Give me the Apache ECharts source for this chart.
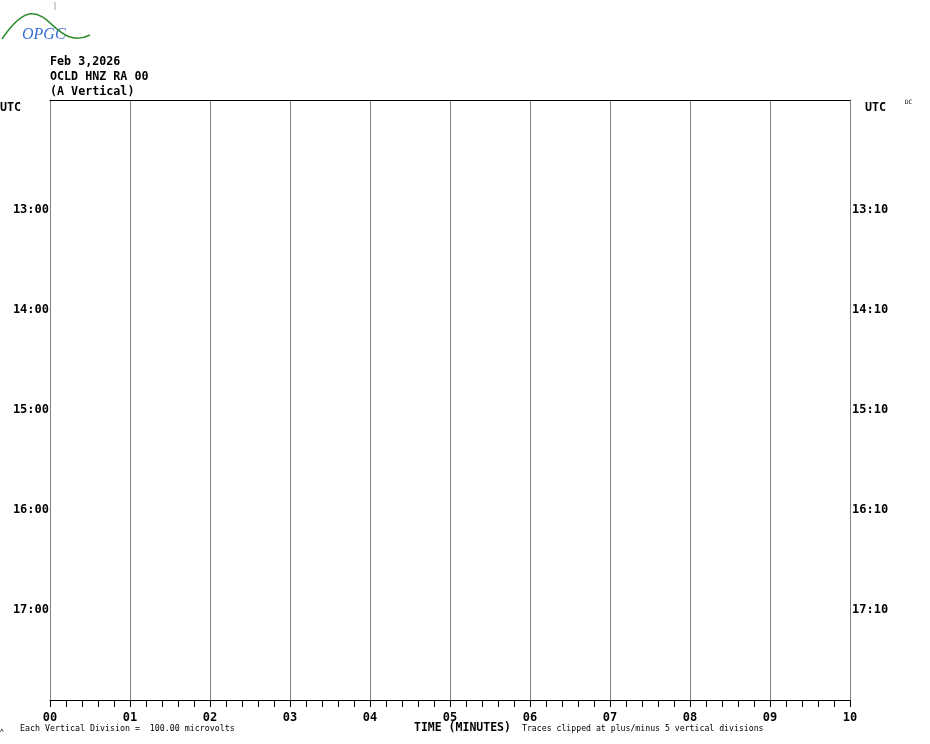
<!DOCTYPE html>
<html><head><meta charset="utf-8">
<script src="https://cdn.jsdelivr.net/npm/echarts@6/dist/echarts.min.js"></script>
<style>html,body{margin:0;padding:0;background:#fff}#c{width:930px;height:744px}</style>
</head><body><div id="c"></div>
<script>
// Data
const minuteTicks = ["00","01","02","03","04","05","06","07","08","09","10"];
const leftHourLabels = ["13:00","14:00","15:00","16:00","17:00"];
const rightHourLabels = ["13:10","14:10","15:10","16:10","17:10"];
const rowValues = [1,2,3,4,5];      // row index of each labelled line
const traceData = [];                // no traces recorded
const titleLines = ["Feb 3,2026","OCLD HNZ RA 00","(A Vertical)"];

const mono = '"DejaVu Sans Mono", monospace';
const chart = echarts.init(document.getElementById('c'), null, {renderer:'canvas'});
chart.setOption({
  animation:false,
  backgroundColor:'#fff',
  grid:{left:50, top:100, width:800, height:600},
  xAxis:[{
    type:'value', min:0, max:10, interval:1, position:'bottom',
    axisLine:{show:true, onZero:false, lineStyle:{color:'#000', width:1}},
    axisTick:{show:true, length:7, inside:false, lineStyle:{color:'#000', width:1}},
    minorTick:{show:true, splitNumber:5, length:7, lineStyle:{color:'#000', width:1}},
    splitLine:{show:true, lineStyle:{color:'#808080', width:1}},
    axisLabel:{formatter:v=>minuteTicks[Math.round(v)], color:'#000', fontFamily:mono, fontWeight:'bold', fontSize:12, margin:12}
  },{
    type:'value', min:0, max:10, position:'top',
    axisLine:{show:true, onZero:false, lineStyle:{color:'#000', width:1}},
    axisTick:{show:false}, axisLabel:{show:false}, splitLine:{show:false}
  }],
  yAxis:[{
    type:'value', min:0, max:6, interval:1, inverse:true, position:'left',
    axisLine:{show:true, onZero:false, lineStyle:{color:'#808080'}},
    axisTick:{show:false}, splitLine:{show:false},
    axisLabel:{formatter:v=>{const i=rowValues.indexOf(Math.round(v));return i>=0?leftHourLabels[i]:'';},
      color:'#000', fontFamily:mono, fontWeight:'bold', fontSize:12, margin:1, verticalAlign:'top', lineHeight:12, padding:[4,0,0,0]}
  },{
    type:'value', min:0, max:6, interval:1, inverse:true, position:'right',
    axisLine:{show:true, onZero:false, lineStyle:{color:'#808080'}},
    axisTick:{show:false}, splitLine:{show:false},
    axisLabel:{formatter:v=>{const i=rowValues.indexOf(Math.round(v));return i>=0?rightHourLabels[i]:'';},
      color:'#000', fontFamily:mono, fontWeight:'bold', fontSize:12, margin:2, verticalAlign:'top', lineHeight:12, padding:[4,0,0,0]}
  }],
  series:[{type:'line', data:traceData, xAxisIndex:0, yAxisIndex:0, showSymbol:false, lineStyle:{color:'#000', width:1}}],
  graphic:[
    // logo
    {type:'bezierCurve', shape:{x1:2,y1:39,x2:90,y2:35,cpx1:45,cpy1:-25,cpx2:50,cpy2:55}, style:{stroke:'#2e8b2e', lineWidth:1.5, fill:null}, z:1},
    {type:'line', shape:{x1:55,y1:2,x2:55,y2:10}, style:{stroke:'#9aa89a', lineWidth:1}},
    {type:'text', left:22, top:27, style:{text:'OPGC', font:'italic 16px "Liberation Serif", serif', fill:'#3a6fd8', stroke:null}},
    {type:'text', left:50, top:56, style:{text:titleLines[0], font:'bold 11.7px '+mono, fill:'#000'}},
    {type:'text', left:50, top:71, style:{text:titleLines[1], font:'bold 11.7px '+mono, fill:'#000'}},
    {type:'text', left:50, top:86, style:{text:titleLines[2], font:'bold 11.7px '+mono, fill:'#000'}},
    {type:'text', left:0, top:102, style:{text:'UTC', font:'bold 11.7px '+mono, fill:'#000'}},
    {type:'text', left:865, top:102, style:{text:'UTC', font:'bold 11.7px '+mono, fill:'#000'}},
    {type:'text', left:905, top:99, style:{text:'DC', font:'6px '+mono, fill:'#000'}},
    {type:'text', left:0, top:727, style:{text:'\u028c', font:'6px '+mono, fill:'#000'}},
    {type:'text', left:20, top:725, style:{text:'Each Vertical Division =  100.00 microvolts', font:'8.3px '+mono, fill:'#000'}},
    {type:'text', left:414, top:722, style:{text:'TIME (MINUTES)', font:'bold 11.5px '+mono, fill:'#000'}},
    {type:'text', left:522, top:725, style:{text:'Traces clipped at plus/minus 5 vertical divisions', font:'8.2px '+mono, fill:'#000'}}
  ]
});
</script></body></html>
